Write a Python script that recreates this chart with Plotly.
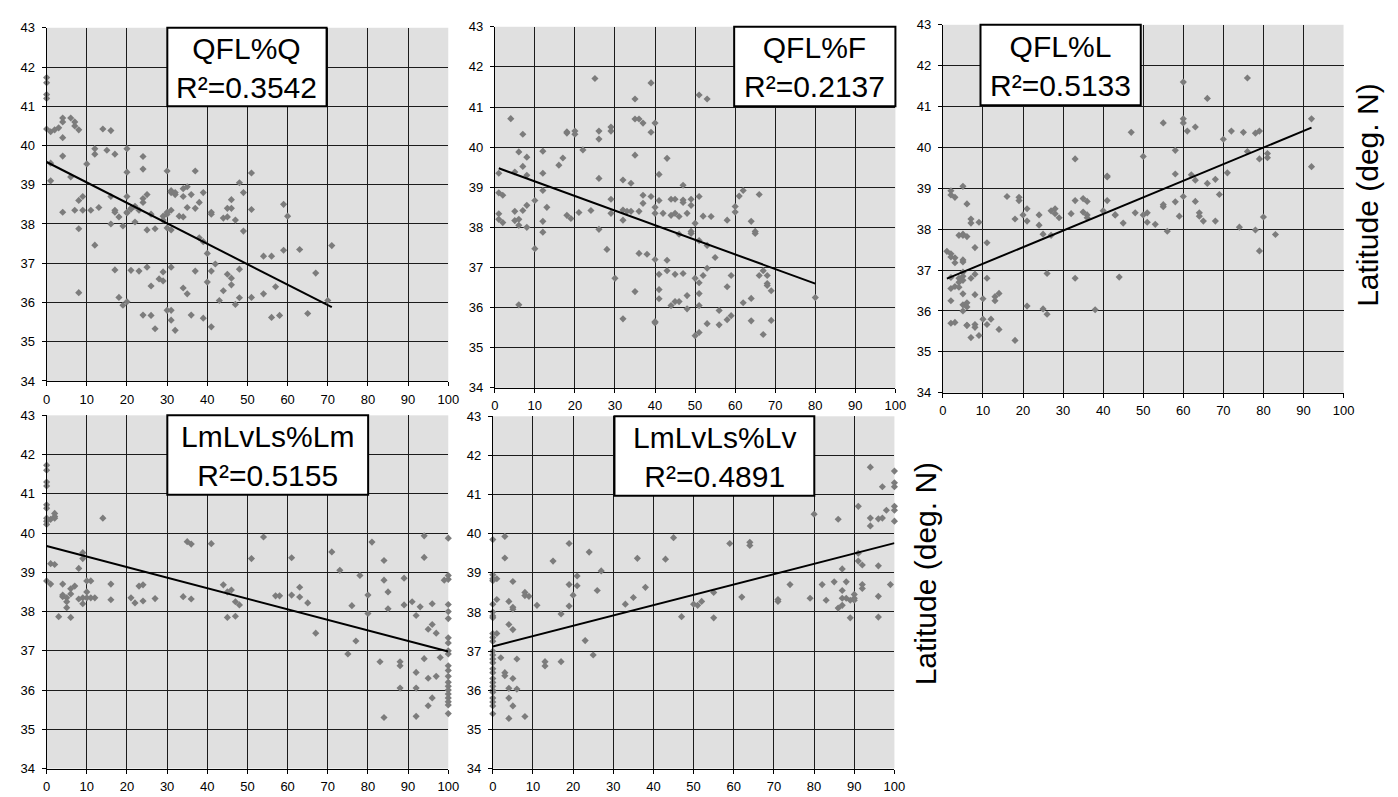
import plotly.graph_objects as go

W, H = 1398, 797

# ---------------- data ----------------
q_x = [0, 0, 0, 0, 0, 1, 2, 3, 4, 4, 6, 7, 7, 8, 4, 4, 1, 1, 6, 4, 7, 8, 9, 9, 8, 8,
       10, 11, 12, 12, 12, 13, 14, 15, 16, 16, 16, 17, 17, 17, 17, 18, 18, 19, 19,
       20, 20, 20, 20, 20, 20, 21, 21, 21, 22, 22, 23, 23, 24, 24, 24, 24, 24, 25, 25, 25,
       26, 26, 26, 27, 27, 28, 29, 29, 29, 29, 30, 30, 30, 30, 30, 31, 31, 31, 31, 31, 31, 31,
       32, 32, 32, 33, 34, 34, 34, 34, 35, 35, 35, 36, 36, 37, 37, 37, 38, 38, 39, 39, 39,
       40, 40, 41, 41, 41, 41, 42, 43, 44, 44, 45, 45, 45, 46, 46, 46, 46, 47, 47, 48, 48, 48,
       49, 49, 51, 51, 51, 54, 54, 56, 56, 57, 58, 59, 59, 60, 63, 65, 67, 70, 71]
q_y = [41.73, 41.6, 41.3, 41.2, 40.42, 40.35, 40.4, 40.45, 40.6, 40.7, 40.7, 40.6, 40.5, 40.4,
       40.2, 39.73, 39.1, 39.55, 39.2, 38.3, 38.35, 38.6, 38.7, 38.35, 37.88, 36.25,
       39.53, 38.35, 39.92, 39.78, 37.46, 38.42, 40.42, 39.88, 40.38, 38.7, 38.0, 39.78, 38.35,
       38.3, 36.83, 38.18, 36.13, 37.95, 35.93,
       39.92, 39.32, 38.7, 38.28, 38.3, 36.02, 38.38, 38.4, 36.82, 38.05, 38.45, 38.35, 36.8,
       39.72, 39.4, 38.65, 38.55, 35.68, 38.75, 37.85, 36.9,
       38.25, 36.42, 35.67, 37.88, 35.33, 36.6, 36.55, 36.78, 38.1, 38.2, 38.25, 38.3, 39.35,
       37.9, 35.8, 38.35, 38.8, 38.85, 37.85, 36.9, 35.8, 35.55,
       38.75, 38.8, 35.29, 38.2, 38.9, 38.7, 38.18, 36.37, 38.95, 38.42, 36.22, 38.75, 35.68,
       39.35, 38.4, 36.8, 38.55, 37.65, 38.8, 37.55, 35.6,
       37.25, 36.52, 38.3, 38.25, 36.8, 35.38, 36.98, 36.05, 38.15, 36.3, 38.18, 38.4, 36.72,
       38.62, 38.4, 36.62, 36.45, 38.1, 35.95, 39.05, 36.85, 36.12,
       38.8, 37.82, 39.3, 38.37, 36.13, 37.18, 36.22, 37.18, 35.62, 36.4, 35.67, 38.5, 37.33,
       38.2, 37.35, 35.72, 36.75, 36.05, 37.45]

f_x = [1, 1, 2, 1, 1, 2, 4, 5, 5, 5, 6, 6, 6, 6, 7, 7, 7, 8, 8, 8, 8, 10, 10, 12, 12, 12, 12, 12,
       13, 16, 17, 18, 18, 18, 19, 20, 20, 21, 22, 24, 25, 26, 26, 26, 26, 28, 29, 29, 29, 29,
       30, 32, 32, 32, 32, 33, 34, 34, 35, 35, 35, 35, 36, 36, 36, 37, 37, 37, 38, 39, 39, 39,
       40, 40, 40, 40, 40, 40, 41, 41, 41, 41, 41, 42, 43, 43, 43, 44, 44, 44, 45, 45, 45, 45,
       46, 46, 46, 47, 47, 47, 47, 48, 48, 48, 49, 49, 49, 49, 50, 50, 50, 51, 51, 51, 51, 51,
       51, 51, 52, 52, 53, 53, 53, 53, 54, 55, 56, 56, 58, 58, 58, 59, 59, 60, 60, 61, 62, 62,
       64, 64, 64, 65, 65, 66, 66, 67, 67, 68, 68, 68, 69, 69, 80]
f_y = [39.35, 38.86, 38.8, 38.34, 38.2, 38.12, 40.71, 39.38, 38.4, 38.17, 38.2, 38.05, 39.88,
       36.07, 40.32, 39.52, 38.42, 39.75, 39.3, 38.55, 38.0, 38.67, 37.47, 39.9, 39.35, 38.92,
       38.15, 37.88, 38.5, 39.55, 39.73, 40.38, 40.35, 38.3, 38.22, 40.4, 40.32, 38.37, 39.93,
       38.42, 41.71, 40.4, 40.2, 39.22, 37.95, 37.45, 40.5, 40.4, 38.7, 38.35,
       36.73, 39.18, 38.43, 38.18, 35.72, 38.4, 39.1, 38.4, 41.2, 40.7, 39.8, 36.4, 40.7, 38.4,
       37.35, 40.6, 38.8, 38.6, 37.33, 41.6, 40.37, 38.77,
       40.6, 38.5, 38.35, 37.2, 35.65, 35.62, 39.32, 38.67, 36.83, 36.45, 36.22, 38.35, 39.72,
       37.18, 36.92, 38.7, 38.3, 36.05, 38.7, 38.35, 36.83, 36.15,
       38.27, 37.83, 36.15, 39.05, 38.68, 38.62, 36.85, 38.35, 36.3, 35.97, 38.7, 38.55, 37.9,
       37.85, 38.1, 36.73, 35.3, 38.77, 37.67, 36.62, 36.35, 36.05, 41.3, 35.38,
       38.28, 36.8, 41.2, 37.55, 36.98, 35.6, 38.27, 37.25, 35.93, 35.57, 38.18, 36.52, 35.7,
       36.8, 35.8, 38.52, 38.38, 38.78, 38.92, 36.12,
       38.15, 36.23, 35.67, 37.9, 37.85, 38.82, 36.8, 36.92, 35.33, 36.8, 36.6, 36.55, 36.42,
       35.68, 36.25]

l_x = [1, 2, 2, 3, 3, 2, 2, 3, 2, 2, 2, 2, 3, 3, 4, 4, 4, 4, 5, 5, 5, 5, 5, 5, 5, 5, 5, 5, 5,
       6, 6, 6, 6, 6, 6, 7, 7, 7, 7, 8, 8, 8, 8, 8, 9, 9, 10, 10, 11, 11, 11, 12, 13, 14, 13,
       14, 16, 18, 19, 18, 19, 20, 21, 21, 21, 24, 24, 25, 25, 26, 26, 27, 28, 27, 28, 29,
       32, 33, 33, 33, 35, 36, 35, 36, 36, 38, 40, 41, 41, 41, 43, 43, 44, 45, 47, 48, 50, 50,
       51, 51, 53, 55, 55, 55, 56, 58, 58, 58, 59, 60, 60, 60, 60, 61, 62, 63, 63, 63, 64, 64,
       65, 66, 66, 68, 68, 69, 70, 71, 72, 74, 75, 76, 76, 78, 79, 78, 79, 79, 80, 81, 81, 83,
       92, 92]
l_y = [37.46, 37.4, 37.32, 37.3, 37.18, 38.94, 38.84, 38.78, 36.82, 36.55, 36.25, 35.7, 35.72,
       36.6, 36.58, 36.7, 36.8, 37.85, 39.05, 37.88, 37.85, 37.25, 37.2, 36.95, 36.85, 36.75,
       36.42, 36.15, 36.0, 35.65,
       37.82, 38.62, 36.2, 36.1, 35.65, 35.35, 38.25, 38.15, 36.8, 35.67, 37.55, 36.9, 36.4,
       35.6, 35.4, 38.17, 36.3, 35.8, 35.67, 37.67, 36.8, 35.8, 36.25, 36.43, 36.35, 35.55,
       38.8, 38.25, 38.78, 35.28, 38.7, 38.35, 36.12, 38.5, 38.2, 38.1, 38.35, 37.88, 36.05,
       35.92, 36.92, 37.85, 38.5, 38.45, 38.38, 38.28, 38.38,
       36.8, 39.72, 38.7, 38.42, 38.68, 38.75, 38.35, 38.28, 36.03, 38.45, 39.3, 39.28, 38.7,
       38.35, 38.35, 36.83, 38.15, 40.37, 38.4, 39.78, 38.35, 38.17,
       38.4, 38.12, 40.6, 38.6, 38.55, 37.95, 38.67, 39.93, 39.35, 38.32, 38.8, 41.6, 40.7,
       40.6, 40.4, 39.33, 39.2, 40.5, 38.68, 38.4, 38.32, 38.2,
       41.2, 39.12, 38.2, 39.22, 38.85, 40.2, 39.38, 40.4, 38.05, 40.37, 41.7, 39.9, 37.98,
       40.4, 40.35, 37.47, 39.72, 38.3, 39.85, 39.75, 37.87, 39.53, 40.7, 40.32]

lm_x = [0, 0, 0, 0, 0, 0, 0, 0, 0, 0, 1, 1, 2, 2, 2, 1, 2, 3, 4, 4, 4, 5, 5, 5, 6, 6, 6, 7, 8,
        8, 9, 9, 9, 9, 10, 10, 10, 11, 11, 12, 14, 16, 16, 21, 22, 23, 24, 24, 27, 34, 35, 36,
        36, 41, 44, 45, 45, 46, 47, 48, 47, 51, 54, 57, 58, 61, 61, 63, 63, 65, 67, 71, 73, 75,
        76, 77, 78, 80, 80, 81, 83, 84, 84, 84, 85, 85, 88, 88, 88, 89, 89, 91, 92, 92, 92, 92,
        93, 94, 94, 94, 95, 95, 95, 96, 96, 96, 97, 97, 98, 99,
        100, 100, 100, 100, 100, 100, 100, 100, 100, 100, 100, 100, 100, 100, 100, 100, 100,
        100, 100, 100, 100]
lm_y = [41.73, 41.6, 41.3, 41.2, 40.72, 40.63, 40.38, 40.3, 40.22, 38.78, 38.7, 40.35, 40.42,
        40.5, 40.38, 39.22, 39.2, 37.87, 38.7, 38.42, 38.38, 38.35, 38.25, 38.1, 38.45, 38.58,
        37.85, 38.65, 39.1, 38.32, 39.5, 39.35, 38.2, 38.35, 38.78, 38.5, 38.35, 38.78, 38.35,
        38.35, 40.38, 38.7, 38.3, 38.35, 38.22, 38.65, 38.68, 38.27, 38.33, 38.38, 39.78, 39.72,
        38.32, 39.73, 38.68, 38.5, 37.85, 38.55, 38.25, 38.17, 37.88, 39.35, 39.9, 38.4, 38.4,
        39.37, 38.42, 38.62, 38.37, 38.22, 37.45, 39.52, 39.05, 36.92, 38.15, 37.25, 38.92,
        38.42, 37.95, 39.77, 36.72, 39.3, 38.8, 35.3, 38.5, 38.07, 36.72, 36.62, 36.05, 38.85,
        38.17, 38.25, 37.9, 36.45, 36.05, 35.33, 38.12, 39.93, 39.38, 36.8, 37.55, 36.3, 35.6,
        38.2, 37.67, 35.8, 37.45, 36.35, 36.83, 38.8,
        39.87, 38.92, 38.82, 38.18, 38.0, 37.82, 37.33, 37.2, 37.0, 36.92, 36.62, 36.5, 36.35,
        36.2, 36.1, 36.0, 35.9, 35.8, 35.7, 35.62, 35.4]

lv_x = [0, 0, 0, 0, 0, 0, 0, 0, 0, 0, 0, 0, 0, 0, 0, 0, 0, 0, 0, 0, 0, 0, 0, 0, 0, 0,
        1, 1, 1, 2, 3, 3, 3, 3, 4, 4, 4, 4, 4, 5, 5, 5, 5, 5, 5, 6, 6, 8, 8, 8, 9, 11, 13, 13,
        15, 17, 17, 19, 19, 19, 20, 21, 21, 23, 24, 25, 26, 27, 33, 35, 36, 38, 43, 45, 47, 50,
        51, 52, 55, 55, 59, 62, 64, 64, 71, 71, 74, 79, 80, 82, 83, 85, 86, 86, 87, 87, 87, 87,
        88, 88, 89, 89, 90, 90, 90, 91, 91, 91, 92, 92, 92, 94, 94, 94, 96, 96, 96, 96, 97, 97,
        98, 99, 100, 100, 100, 100, 100, 100]
lv_y = [39.85, 38.95, 38.85, 38.8, 38.2, 38.0, 37.9, 37.85, 37.45, 37.35, 37.25, 37.0, 36.9,
        36.8, 36.7, 36.55, 36.45, 36.3, 36.2, 36.1, 36.0, 35.95, 35.8, 35.7, 35.6, 35.4,
        38.85, 38.32, 37.45, 36.83, 39.93, 39.38, 36.45, 36.37, 38.27, 37.68, 36.05, 35.8,
        35.28, 38.78, 38.12, 38.07, 37.55, 36.3, 35.6, 36.8, 36.03, 38.5, 38.42, 35.33, 38.4,
        38.17, 36.73, 36.62, 39.3, 37.95, 36.73, 39.75, 38.7, 38.15, 38.43, 38.92, 38.67,
        37.27, 39.53, 36.9, 38.55, 39.05, 38.2, 38.37, 39.37, 38.63, 39.35, 39.9, 37.88, 38.2,
        38.17, 38.27, 38.5, 37.85, 39.75, 38.38, 39.78, 39.7, 38.32, 38.27, 38.7, 38.35, 40.5,
        38.7, 38.3, 38.77, 40.37, 38.1, 39.1, 38.55, 38.35, 38.17,
        38.77, 38.35, 38.3, 37.85, 38.45, 38.35, 38.3, 40.7, 39.5, 39.3, 39.2, 38.7, 38.6,
        41.7, 40.4, 40.2, 40.38, 39.18, 38.4, 37.87, 41.2, 40.4,
        40.6, 38.7, 41.6, 41.3, 41.2, 40.7, 40.6, 40.32]

titles = ["QFL%Q", "QFL%F", "QFL%L", "LmLvLs%Lm", "LmLvLs%Lv"]
r2_labels = ["0.3542", "0.2137", "0.5133", "0.5155", "0.4891"]
trend_intercepts = [39.58, 39.51, 36.75, 39.67, 37.12]
trend_slopes = [-0.0521, -0.0364, 0.0406, -0.0269, 0.0264]
x_ticks = [0, 10, 20, 30, 40, 50, 60, 70, 80, 90, 100]
y_ticks = [34, 35, 36, 37, 38, 39, 40, 41, 42, 43]
y_axis_title = "Latitude (deg. N)"

series_x = [q_x, f_x, l_x, lm_x, lv_x]
series_y = [q_y, f_y, l_y, lm_y, lv_y]

# ---------------- layout geometry (pixels) ----------------
plot_boxes = [  # left, right, top, bottom
    (35, 441, 13, 373),
    (488, 893, 12, 380),
    (941, 1346, 10, 385),
    (35, 441, 408, 768),
    (486, 892, 409, 768),
]
title_boxes = [  # left, right, top, bottom
    (157, 318, 13, 93),
    (730, 893, 12, 93),
    (979, 1141, 10, 92),
    (157, 360, 408, 489),
    (609, 811, 409, 490),
]

FONT = "Liberation Sans, Arial, sans-serif"
fig = go.Figure()
layout = dict(
    width=W, height=H, margin=dict(l=0, r=0, t=0, b=0),
    paper_bgcolor="white", showlegend=False,
    font=dict(family=FONT, color="black", size=13),
)
annotations = []
shapes = []

for i in range(5):
    ax = "" if i == 0 else str(i + 1)
    xs, ys = series_x[i], series_y[i]
    fig.add_trace(go.Scatter(
        x=xs, y=ys, mode="markers", xaxis="x" + ax, yaxis="y" + ax, cliponaxis=False,
        marker=dict(symbol="diamond", size=5.5, color="#7c7c7c", line=dict(width=0)),
    ))
    x0, x1 = min(xs), max(xs)
    fig.add_trace(go.Scatter(
        x=[x0, x1],
        y=[trend_intercepts[i] + trend_slopes[i] * x0, trend_intercepts[i] + trend_slopes[i] * x1],
        mode="lines", xaxis="x" + ax, yaxis="y" + ax,
        line=dict(color="black", width=2),
    ))
    l, r, t, b = plot_boxes[i]
    common = dict(showgrid=True, gridcolor="#1c1c1c", gridwidth=1.4, zeroline=False,
                  showline=True, linecolor="black", linewidth=1, ticks="outside",
                  ticklen=4, tickcolor="black", tickfont=dict(size=13, family=FONT),
                  fixedrange=True)
    layout["xaxis" + ax] = dict(domain=[l / W, r / W], range=[0, 100], tickvals=x_ticks,
                                anchor="y" + ax, ticklabelstandoff=2, **common)
    layout["yaxis" + ax] = dict(domain=[1 - b / H, 1 - t / H], range=[34, 43], tickvals=y_ticks,
                                anchor="x" + ax, ticklabelstandoff=4, **common)

    # title box (white rectangle with black border) and its two-line text
    bl, br, bt, bb = title_boxes[i]
    shapes.append(dict(type="rect", xref="paper", yref="paper",
                       x0=bl / W, x1=br / W, y0=1 - bb / H, y1=1 - bt / H,
                       fillcolor="white", line=dict(color="black", width=2), layer="above"))
    annotations.append(dict(
        xref="paper", yref="paper", x=(bl + br) / 2 / W, y=1 - ((bt + bb) / 2 + 1) / H,
        xanchor="center", yanchor="middle", align="center",
        text=f"{titles[i]}<br>R²={r2_labels[i]}", showarrow=False, borderpad=0,
        font=dict(size=30, family=FONT, color="black"),
    ))

# y-axis titles at the right side
for cx, cy in [(1370, 184), (923, 570)]:
    annotations.append(dict(
        xref="paper", yref="paper", x=cx / W, y=1 - cy / H, xanchor="center", yanchor="middle",
        text=y_axis_title, textangle=-90, showarrow=False,
        font=dict(size=30, family=FONT, color="black"),
    ))

layout["annotations"] = annotations
layout["shapes"] = shapes
layout["plot_bgcolor"] = "#e0e0e0"
fig.update_layout(**layout)
fig.write_html("out.html")
